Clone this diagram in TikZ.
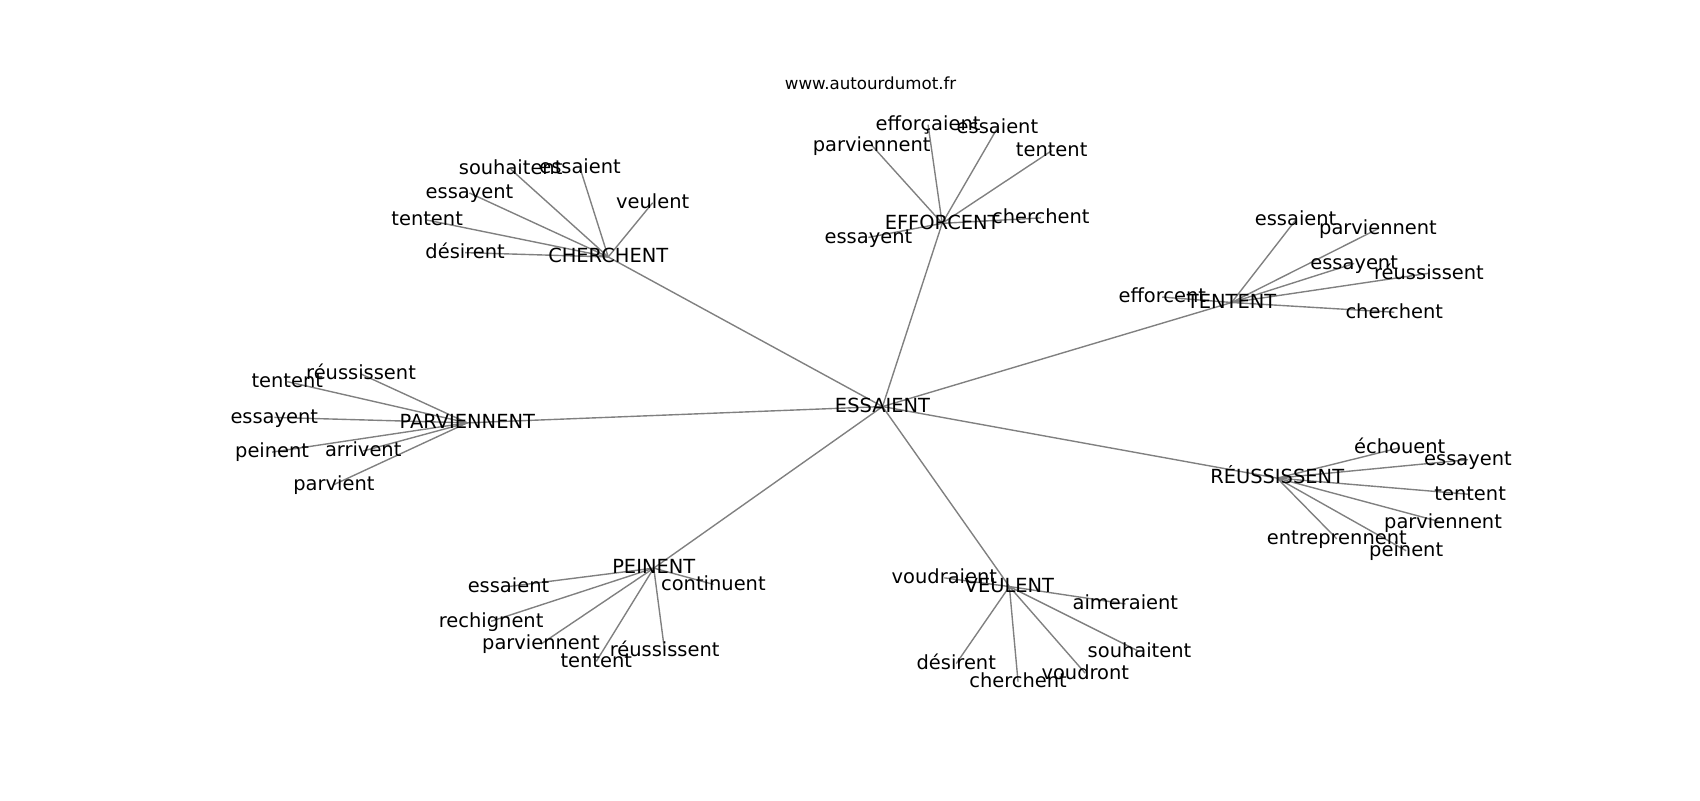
\documentclass[tikz,border=0pt]{standalone}
\usepackage{fontspec}
\setmainfont{DejaVu Sans}
\usetikzlibrary{backgrounds}
\begin{document}
\begin{tikzpicture}[x=0.78062pt,y=-0.78062pt,
  lbl/.style={inner sep=0pt,text height=1.05em,text depth=0.21em,font=\fontsize{14}{16}\selectfont},
  ttl/.style={inner sep=0pt,text height=1.05em,text depth=0.21em,font=\fontsize{12}{14}\selectfont},
  edge/.style={draw=gray,line width=1pt}]
\useasboundingbox (0,0) rectangle (1568,738);
\node[ttl] (title) at (803,77) {www.autourdumot.fr};
% hubs
\node[lbl] (E) at (814,375) {ESSAIENT};
\node[lbl] (C) at (561,237) {CHERCHENT};
\node[lbl] (F) at (869,206) {EFFORCENT};
\node[lbl] (T) at (1136,279) {TENTENT};
\node[lbl] (R) at (1178,441) {RÉUSSISSENT};
\node[lbl] (P) at (431,390) {PARVIENNENT};
\node[lbl] (Pe) at (603,524) {PEINENT};
\node[lbl] (V) at (931,541) {VEULENT};
% CHERCHENT leaves
\node[lbl] (c1) at (471,156) {souhaitent};
\node[lbl] (c2) at (535,155) {essaient};
\node[lbl] (c3) at (602,187) {veulent};
\node[lbl] (c4) at (433,178) {essayent};
\node[lbl] (c5) at (394,203) {tentent};
\node[lbl] (c6) at (429,233) {désirent};
% EFFORCENT leaves
\node[lbl] (f1) at (856,115) {efforçaient};
\node[lbl] (f2) at (920,118) {essaient};
\node[lbl] (f3) at (804,134) {parviennent};
\node[lbl] (f4) at (970,139) {tentent};
\node[lbl] (f5) at (960,201) {cherchent};
\node[lbl] (f6) at (801,219) {essayent};
% TENTENT leaves
\node[lbl] (t1) at (1072,274) {efforcent};
\node[lbl] (t2) at (1195,203) {essaient};
\node[lbl] (t3) at (1271,211) {parviennent};
\node[lbl] (t4) at (1249,243) {essayent};
\node[lbl] (t5) at (1318,252) {réussissent};
\node[lbl] (t6) at (1286,288) {cherchent};
% RÉUSSISSENT leaves
\node[lbl] (r1) at (1291,413) {échouent};
\node[lbl] (r2) at (1354,424) {essayent};
\node[lbl] (r3) at (1356,456) {tentent};
\node[lbl] (r4) at (1331,482) {parviennent};
\node[lbl] (r5) at (1233,497) {entreprennent};
\node[lbl] (r6) at (1297,508) {peinent};
% PARVIENNENT leaves
\node[lbl] (p1) at (333,345) {réussissent};
\node[lbl] (p2) at (265,352) {tentent};
\node[lbl] (p3) at (253,385) {essayent};
\node[lbl] (p4) at (251,417) {peinent};
\node[lbl] (p5) at (335,416) {arrivent};
\node[lbl] (p6) at (308,447) {parvient};
% PEINENT leaves
\node[lbl] (e1) at (469,541) {essaient};
\node[lbl] (e2) at (453,573) {rechignent};
\node[lbl] (e3) at (658,539) {continuent};
\node[lbl] (e4) at (499,594) {parviennent};
\node[lbl] (e5) at (550,610) {tentent};
\node[lbl] (e6) at (613,600) {réussissent};
% VEULENT leaves
\node[lbl] (v1) at (871,533) {voudraient};
\node[lbl] (v2) at (1038,557) {aimeraient};
\node[lbl] (v3) at (1051,601) {souhaitent};
\node[lbl] (v4) at (1001,621) {voudront};
\node[lbl] (v5) at (939,629) {cherchent};
\node[lbl] (v6) at (882,612) {désirent};
\begin{scope}[on background layer]
\foreach \h in {C,F,T,R,P,Pe,V} \draw[edge] (E.center) -- (\h.center);
\foreach \l in {c1,c2,c3,c4,c5,c6} \draw[edge] (C.center) -- (\l.center);
\foreach \l in {f1,f2,f3,f4,f5,f6} \draw[edge] (F.center) -- (\l.center);
\foreach \l in {t1,t2,t3,t4,t5,t6} \draw[edge] (T.center) -- (\l.center);
\foreach \l in {r1,r2,r3,r4,r5,r6} \draw[edge] (R.center) -- (\l.center);
\foreach \l in {p1,p2,p3,p4,p5,p6} \draw[edge] (P.center) -- (\l.center);
\foreach \l in {e1,e2,e3,e4,e5,e6} \draw[edge] (Pe.center) -- (\l.center);
\foreach \l in {v1,v2,v3,v4,v5,v6} \draw[edge] (V.center) -- (\l.center);
\end{scope}
\end{tikzpicture}
\end{document}
